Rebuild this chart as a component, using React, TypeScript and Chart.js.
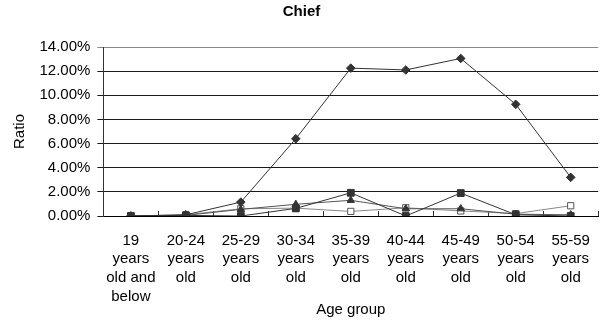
import React, { useEffect, useRef } from "react";
import { Chart, registerables } from "chart.js";

Chart.register(...registerables);

const categories: string[][] = [
  ["19", "years", "old and", "below"],
  ["20-24", "years", "old"],
  ["25-29", "years", "old"],
  ["30-34", "years", "old"],
  ["35-39", "years", "old"],
  ["40-44", "years", "old"],
  ["45-49", "years", "old"],
  ["50-54", "years", "old"],
  ["55-59", "years", "old"],
];

const seriesDiamond = [0, 0.1, 1.15, 6.4, 12.25, 12.1, 13.05, 9.25, 3.2];
const seriesFilledSquare = [0, 0.05, 0, 0.63, 1.92, 0, 1.9, 0.1, 0];
const seriesTriangle = [0, 0.05, 0.55, 0.97, 1.3, 0.6, 0.6, 0.15, 0.1];
const seriesOpenSquare = [0, 0.1, 0.6, 0.65, 0.38, 0.68, 0.42, 0.2, 0.85];

const yTicks = [0, 2, 4, 6, 8, 10, 12, 14];

const FONT = "'Liberation Sans', Arial, sans-serif";

const innerTicks = {
  id: "innerTicks",
  beforeDatasetsDraw(chart: any) {
    const x = chart.scales.x;
    const { ctx, chartArea } = chart;
    ctx.save();
    ctx.strokeStyle = "#333";
    ctx.lineWidth = 1;
    ctx.beginPath();
    for (let i = 0; i <= categories.length; i++) {
      const px = Math.round(x.getPixelForValue(i - 0.5)) + 0.5;
      ctx.moveTo(px, chartArea.bottom);
      ctx.lineTo(px, chartArea.bottom - 5);
    }
    ctx.stroke();
    ctx.restore();
  },
};

export default function App() {
  const ref = useRef<HTMLCanvasElement>(null);
  useEffect(() => {
    if (!ref.current) return;
    const chart = new Chart(ref.current, {
      type: "line",
      data: {
        labels: categories,
        datasets: [
          {
            label: "Diamond",
            data: seriesDiamond,
            borderColor: "#333",
            backgroundColor: "#333",
            borderWidth: 1,
            pointStyle: "rectRot",
            pointRadius: 4.3,
            pointBorderWidth: 1,
            tension: 0,
          },
          {
            label: "Filled square",
            data: seriesFilledSquare,
            borderColor: "#333",
            backgroundColor: "#333",
            borderWidth: 1,
            pointStyle: "rect",
            pointRadius: 4.8,
            pointBorderWidth: 1,
            tension: 0,
          },
          {
            label: "Triangle",
            data: seriesTriangle,
            borderColor: "#555",
            backgroundColor: "#333",
            pointBorderColor: "#333",
            borderWidth: 1,
            pointStyle: "triangle",
            pointRadius: 4.2,
            pointBorderWidth: 1,
            tension: 0,
          },
          {
            label: "Open square",
            data: seriesOpenSquare,
            borderColor: "#888",
            backgroundColor: "#fff",
            pointBorderColor: "#555",
            borderWidth: 1,
            pointStyle: "rect",
            pointRadius: 4.4,
            pointBorderWidth: 1,
            tension: 0,
          },
        ],
      },
      options: {
        animation: false,
        responsive: true,
        maintainAspectRatio: false,
        layout: { padding: { left: 0, right: 1, top: 0, bottom: 0 } },
        plugins: {
          legend: { display: false },
          tooltip: { enabled: false },
          title: {
            display: true,
            text: "Chief",
            color: "#000",
            font: { family: FONT, size: 15, weight: "bold", lineHeight: 1.2 },
            padding: { top: 3, bottom: 26 },
          },
        },
        scales: {
          x: {
            type: "category",
            offset: true,
            grid: { display: false, drawTicks: true, tickLength: 15 },
            border: { display: true, color: "#000", width: 1 },
            ticks: {
              color: "#000",
              autoSkip: false,
              maxRotation: 0,
              minRotation: 0,
              padding: 0,
              font: { family: FONT, size: 15, lineHeight: 1.25 },
            },
            title: {
              display: true,
              text: "Age group",
              color: "#000",
              font: { family: FONT, size: 15, lineHeight: "8px" as any },
              padding: { top: 0, bottom: 6 },
            },
          },
          y: {
            min: 0,
            max: 14,
            afterBuildTicks: (scale: any) => {
              scale.ticks = yTicks.map((v) => ({ value: v }));
            },
            grid: {
              color: (c: any) => (c.tick && c.tick.value === 14 ? "#888" : "#1a1a1a"),
              drawTicks: true,
              tickLength: 6,
            },
            border: { display: true, color: "#333", width: 1 },
            ticks: {
              color: "#000",
              padding: 7,
              font: { family: FONT, size: 15 },
              callback: (v: any) => Number(v).toFixed(2) + "%",
            },
            title: {
              display: true,
              text: "Ratio",
              color: "#000",
              font: { family: FONT, size: 15, lineHeight: 1.2 },
              padding: { top: 11, bottom: 3.5 },
            },
          },
        },
      },
      plugins: [innerTicks],
    });
    return () => chart.destroy();
  }, []);
  return (
    <div style={{ position: "fixed", left: 0, top: 0, width: 604, height: 320, background: "#fff" }}>
      <canvas ref={ref} />
    </div>
  );
}
